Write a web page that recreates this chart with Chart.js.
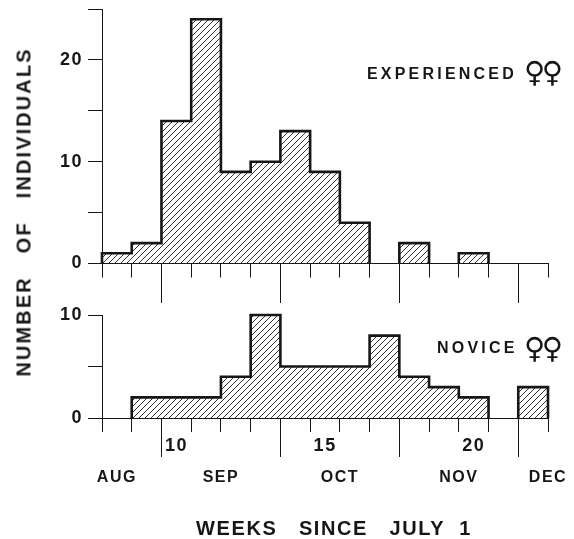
<!DOCTYPE html>
<html>
<head>
<meta charset="utf-8">
<script src="https://cdn.jsdelivr.net/npm/chart.js@4/dist/chart.umd.min.js"></script>
<style>
  html, body { margin: 0; padding: 0; background: #fff; }
  #page { position: relative; width: 574px; height: 539px; overflow: hidden; color: #161616; font-family: "Liberation Sans", sans-serif; }
  canvas { position: absolute; left: 0; }
  #topChart { top: 0; }
  #bottomChart { top: 305px; }
  .note { position: absolute; white-space: nowrap; font-weight: bold; font-size: 16px; letter-spacing: 3.2px; line-height: 30px; }
  .venus { position: absolute; font-family: "DejaVu Sans"; font-weight: normal; font-size: 29px; letter-spacing: -3.5px; line-height: 30px; white-space: nowrap; }
  #yTitle { position: absolute; left: 24px; top: 212px; transform: translate(-50%, -50%) rotate(-90deg); white-space: pre; font-size: 20px; letter-spacing: 2.1px; font-weight: bold; }
  #xTitle { position: absolute; left: 334px; top: 528px; transform: translate(-50%, -50%); white-space: pre; font-size: 20px; letter-spacing: 1.6px; font-weight: bold; }
</style>
</head>
<body>
<div id="page">
  <canvas id="topChart" width="574" height="305"></canvas>
  <canvas id="bottomChart" width="574" height="234"></canvas>
  <div id="yTitle">NUMBER   OF   INDIVIDUALS</div>
  <div id="xTitle">WEEKS   SINCE   JULY  1</div>
  <div class="note" style="left:367px; top:59px">EXPERIENCED</div>
  <div class="venus" style="left:524px; top:57px">♀♀</div>
  <div class="note" style="left:437px; top:333px">NOVICE</div>
  <div class="venus" style="left:524px; top:333px">♀♀</div>
</div>
<script>
// Data
const weeks = [8, 9, 10, 11, 12, 13, 14, 15, 16, 17, 18, 19, 20, 21, 22];
const experienced = [1, 2, 14, 24, 9, 10, 13, 9, 4, 0, 2, 0, 1, 0, 0];
const novice = [0, 2, 2, 2, 4, 10, 5, 5, 5, 8, 4, 3, 2, 0, 3];
const weekLabels = { 10: "10", 15: "15", 20: "20" };
const monthEdges = [10, 14, 18, 22];
const monthPositions = [8.5, 12, 16, 20, 23];
const monthNames = ["AUG", "SEP", "OCT", "NOV", "DEC"];
const topTicks = { 0: "0", 10: "10", 20: "20" };
const bottomTicks = { 0: "0", 10: "10" };

const ink = "#161616";
const tickFont = { family: "Liberation Sans", size: 18, weight: "bold" };

function hatchPattern() {
    const tile = document.createElement("canvas");
    tile.width = 6;
    tile.height = 6;
    const c = tile.getContext("2d");
    c.strokeStyle = "#333";
    c.lineWidth = 1;
    c.beginPath();
    c.moveTo(-1, 7);
    c.lineTo(7, -1);
    c.stroke();
    return c.createPattern(tile, "repeat");
}

// each unbroken run of non-zero weeks becomes its own outlined stepped area
function buildRuns(values) {
    const runs = [];
    let current = null;
    values.forEach((v, i) => {
        if (v > 0) {
            if (!current) {
                current = [{ x: weeks[i], y: 0 }];
                runs.push(current);
            }
            current.push({ x: weeks[i], y: v });
        } else if (current) {
            current.push({ x: weeks[i], y: current[current.length - 1].y });
            current.push({ x: weeks[i], y: 0 });
            current = null;
        }
    });
    if (current) {
        const end = weeks[weeks.length - 1] + 1;
        current.push({ x: end, y: current[current.length - 1].y });
        current.push({ x: end, y: 0 });
    }
    return runs.map((run) => ({
        data: run,
        stepped: "before",
        borderColor: ink,
        borderWidth: 2.6,
        borderJoinStyle: "miter",
        pointRadius: 0,
        fill: "origin",
        backgroundColor: hatchPattern(),
        clip: false,
    }));
}

function edgeTicks(scale) {
    const ticks = weeks.map((w) => ({ value: w }));
    ticks.push({ value: weeks[weeks.length - 1] + 1 });
    scale.ticks = ticks;
}

// fixed band under the plot, so both panels share one horizontal scale
function fixBand(height) {
    return (s) => {
        s.height = height;
        s.paddingLeft = 0;
        s.paddingRight = 0;
    };
}

// the figure's lettering is widely spaced
const spacedText = {
    id: "spacedText",
    beforeDraw(chart) {
        chart.ctx.letterSpacing = "1.5px";
    },
};

function histogram(id, values, yMax, yLabels, topPad, extraScales) {
    const ctx = document.getElementById(id).getContext("2d");
    return new Chart(ctx, {
        type: "line",
        data: { datasets: buildRuns(values) },
        plugins: [spacedText],
        options: {
            responsive: false,
            animation: false,
            layout: { autoPadding: false, padding: { top: topPad, right: 26, left: 0, bottom: 0 } },
            plugins: { legend: { display: false }, tooltip: { enabled: false } },
            scales: {
                y: {
                    min: 0,
                    max: yMax,
                    afterFit: (s) => {
                        s.width = 102;
                        s.paddingTop = 0;
                        s.paddingBottom = 0;
                    },
                    ticks: {
                        stepSize: 5,
                        color: ink,
                        font: tickFont,
                        padding: 5,
                        callback: (v) => yLabels[v] || "",
                    },
                    grid: { drawOnChartArea: false, tickLength: 14, color: ink, tickColor: ink },
                    border: { color: ink },
                },
                ...extraScales,
            },
        },
    });
}

// long ticks marking the month boundaries, hung off the zero line
const monthEdgeAxis = {
    type: "linear",
    axis: "x",
    position: { y: 0 },
    min: 8,
    max: 23,
    afterBuildTicks: (s) => { s.ticks = monthEdges.map((v) => ({ value: v })); },
    ticks: { display: false },
    grid: { drawOnChartArea: false, tickLength: 39, tickColor: ink },
    border: { display: false },
};

histogram("topChart", experienced, 25, topTicks, 9, {
    x: {
        type: "linear",
        min: 8,
        max: 23,
        afterFit: fixBand(41.5),
        afterBuildTicks: edgeTicks,
        ticks: { display: false },
        grid: { drawOnChartArea: false, tickLength: 14, color: ink, tickColor: ink },
        border: { color: ink },
    },
    xEdges: monthEdgeAxis,
});

histogram("bottomChart", novice, 10, bottomTicks, 10, {
    x: {
        type: "linear",
        min: 8,
        max: 23,
        afterFit: fixBand(40),
        afterBuildTicks: edgeTicks,
        ticks: {
            autoSkip: false,
            maxRotation: 0,
            color: ink,
            font: tickFont,
            padding: 3,
            labelOffset: 15,
            callback: (v) => weekLabels[v] || "",
        },
        grid: { drawOnChartArea: false, tickLength: 14, color: ink, tickColor: ink },
        border: { color: ink },
    },
    xMonths: {
        type: "linear",
        position: "bottom",
        min: 8,
        max: 23,
        afterFit: fixBand(81),
        afterBuildTicks: (s) => { s.ticks = monthPositions.map((v) => ({ value: v })); },
        ticks: {
            autoSkip: false,
            maxRotation: 0,
            color: ink,
            font: { family: "Liberation Sans", size: 16, weight: "bold" },
            padding: 10,
            callback: (v) => monthNames[monthPositions.indexOf(v)] || "",
        },
        grid: { display: false, drawTicks: false },
        border: { display: false },
    },
    xEdges: monthEdgeAxis,
});
</script>
</body>
</html>
